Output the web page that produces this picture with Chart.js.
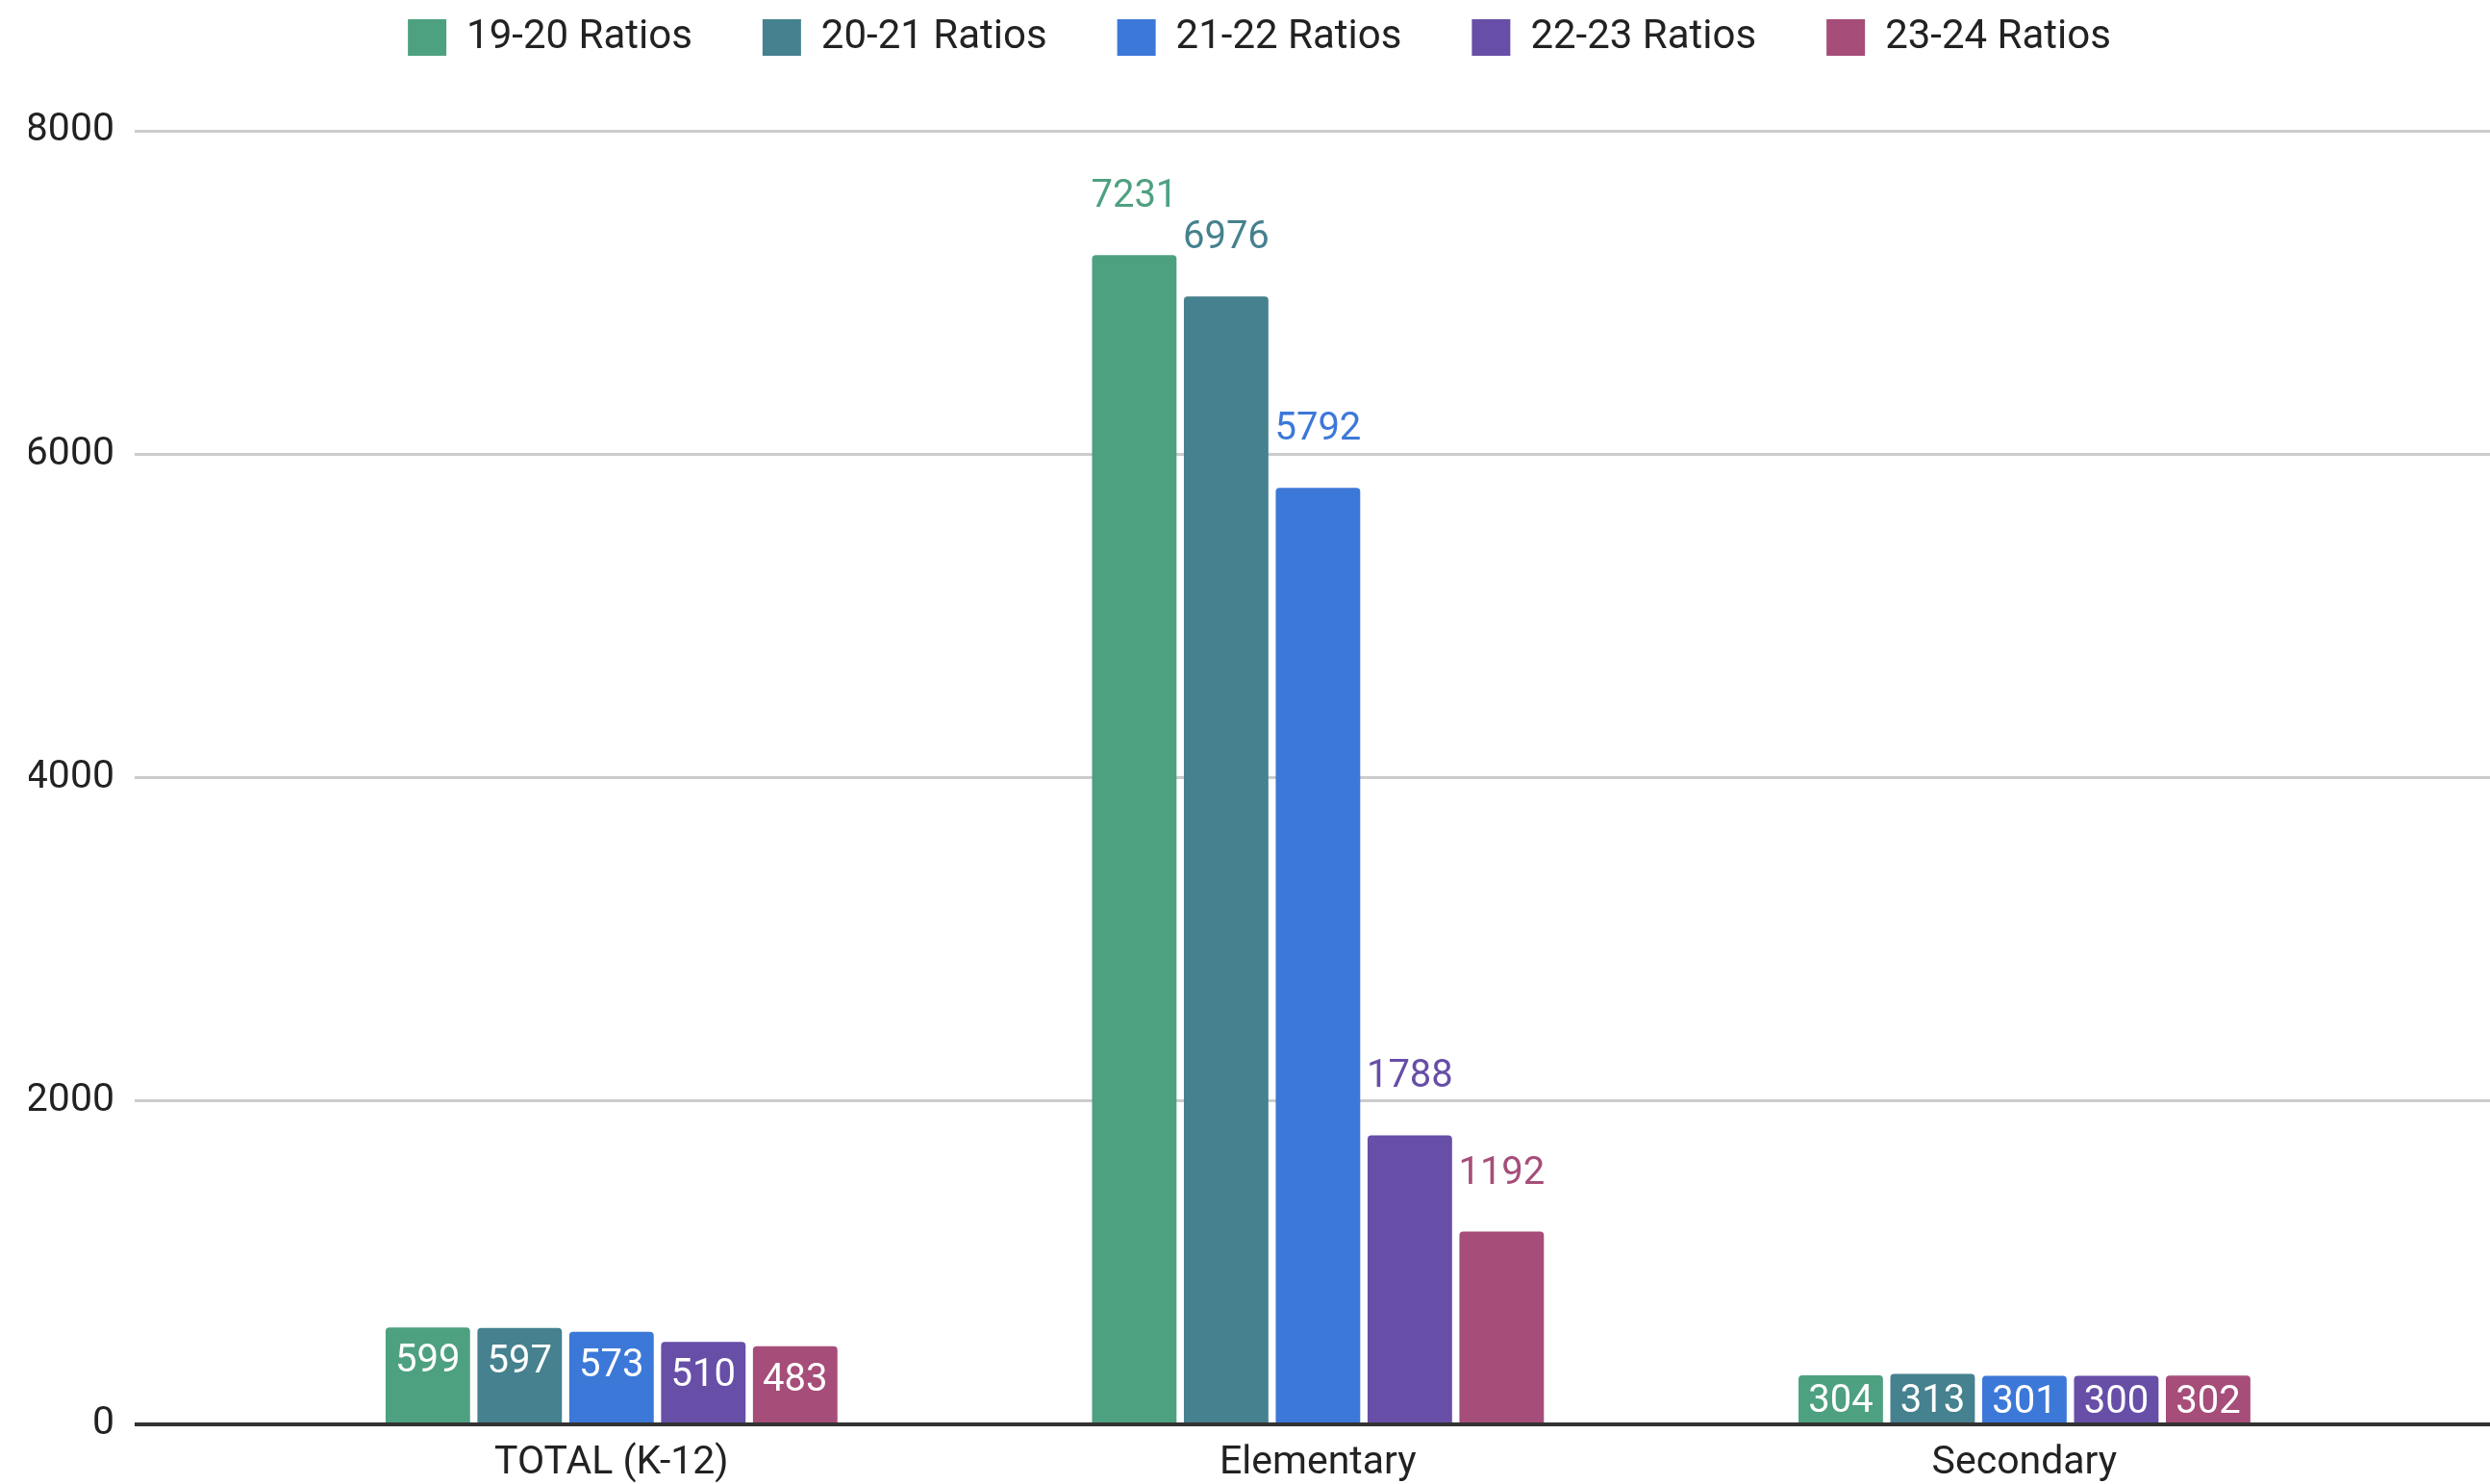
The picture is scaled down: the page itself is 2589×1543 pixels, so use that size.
<!DOCTYPE html>
<html>
<head>
<meta charset="utf-8">
<script src="https://cdn.jsdelivr.net/npm/chart.js@4.4.1/dist/chart.umd.min.js"></script>
<style>
  html, body { margin: 0; padding: 0; background: #fff; }
  canvas { display: block; }
</style>
</head>
<body>
<canvas id="chart" width="2589" height="1543"></canvas>
<script>
const categories = ['TOTAL (K-12)', 'Elementary', 'Secondary'];
const seriesNames = ['19-20 Ratios', '20-21 Ratios', '21-22 Ratios', '22-23 Ratios', '23-24 Ratios'];
const ratios1920 = [599, 7231, 304];
const ratios2021 = [597, 6976, 313];
const ratios2122 = [573, 5792, 301];
const ratios2223 = [510, 1788, 300];
const ratios2324 = [483, 1192, 302];
const seriesColors = ['#4ea180', '#45818e', '#3c78d8', '#674ea7', '#a64d79'];
const yTicks = [0, 2000, 4000, 6000, 8000];

const allSeries = [ratios1920, ratios2021, ratios2122, ratios2223, ratios2324];
const FONT = 'Roboto, "Liberation Sans", Arial, sans-serif';
const INSIDE_BELOW = 1000; // short bars get their label inside, in white

Chart.defaults.font.family = FONT;
Chart.defaults.color = '#222';

// push the plot area down below the legend
const legendGap = {
  id: 'legendGap',
  beforeInit(chart) {
    const fit = chart.legend.fit;
    chart.legend.fit = function () {
      fit.call(this);
      this.height += 66;
    };
  }
};

const barLabels = {
  id: 'barLabels',
  afterDatasetsDraw(chart) {
    const ctx = chart.ctx;
    ctx.save();
    ctx.font = '40px ' + FONT;
    ctx.textAlign = 'center';
    ctx.textBaseline = 'middle';
    chart.data.datasets.forEach((ds, di) => {
      chart.getDatasetMeta(di).data.forEach((bar, i) => {
        const v = ds.data[i].y;
        const h = bar.base - bar.y;
        if (v < INSIDE_BELOW) {
          ctx.fillStyle = '#fff';
          ctx.fillText(String(v), bar.x, bar.y + Math.min(32, h / 2) + 4);
        } else {
          ctx.fillStyle = ds.backgroundColor;
          ctx.fillText(String(v), bar.x, bar.y - 60);
        }
      });
    });
    ctx.restore();
  }
};

new Chart(document.getElementById('chart'), {
  type: 'bar',
  data: {
    datasets: seriesNames.map((name, s) => ({
      label: name,
      data: categories.map((c, i) => ({ x: i, y: allSeries[s][i] })),
      backgroundColor: seriesColors[s],
      borderRadius: 4,
      categoryPercentage: 0.65,
      barPercentage: 0.92
    }))
  },
  options: {
    responsive: false,
    animation: false,
    devicePixelRatio: 1,
    layout: { padding: { top: -55, left: 30, right: 0, bottom: 0 } },
    plugins: {
      tooltip: { enabled: false },
      legend: {
        position: 'top',
        labels: {
          boxWidth: 40,
          boxHeight: 38,
          padding: 73,
          color: '#222',
          font: { size: 42 }
        }
      }
    },
    scales: {
      x: {
        type: 'linear',
        offset: false,
        min: -0.675,
        max: 2.659,
        grid: { display: false, drawTicks: false, offset: false },
        border: { display: false },
        afterBuildTicks: (scale) => { scale.ticks = categories.map((c, i) => ({ value: i })); },
        afterFit: (scale) => { scale.height = 62; },
        ticks: {
          padding: 16,
          color: '#222',
          font: { size: 41 },
          maxRotation: 0,
          autoSkip: false,
          callback: (v) => categories[v]
        }
      },
      y: {
        min: 0,
        max: 8000,
        afterBuildTicks: (scale) => { scale.ticks = yTicks.map(v => ({ value: v })); },
        afterFit: (scale) => { scale.width = 110; },
        border: { display: false },
        grid: {
          drawTicks: false,
          color: (c) => c.tick && c.tick.value === 0 ? '#333' : '#ccc',
          lineWidth: (c) => c.tick && c.tick.value === 0 ? 4 : 3
        },
        ticks: {
          padding: 21,
          color: '#222',
          font: { size: 41 },
          callback: (v) => String(v)
        }
      }
    }
  },
  plugins: [legendGap, barLabels]
});
</script>
</body>
</html>
